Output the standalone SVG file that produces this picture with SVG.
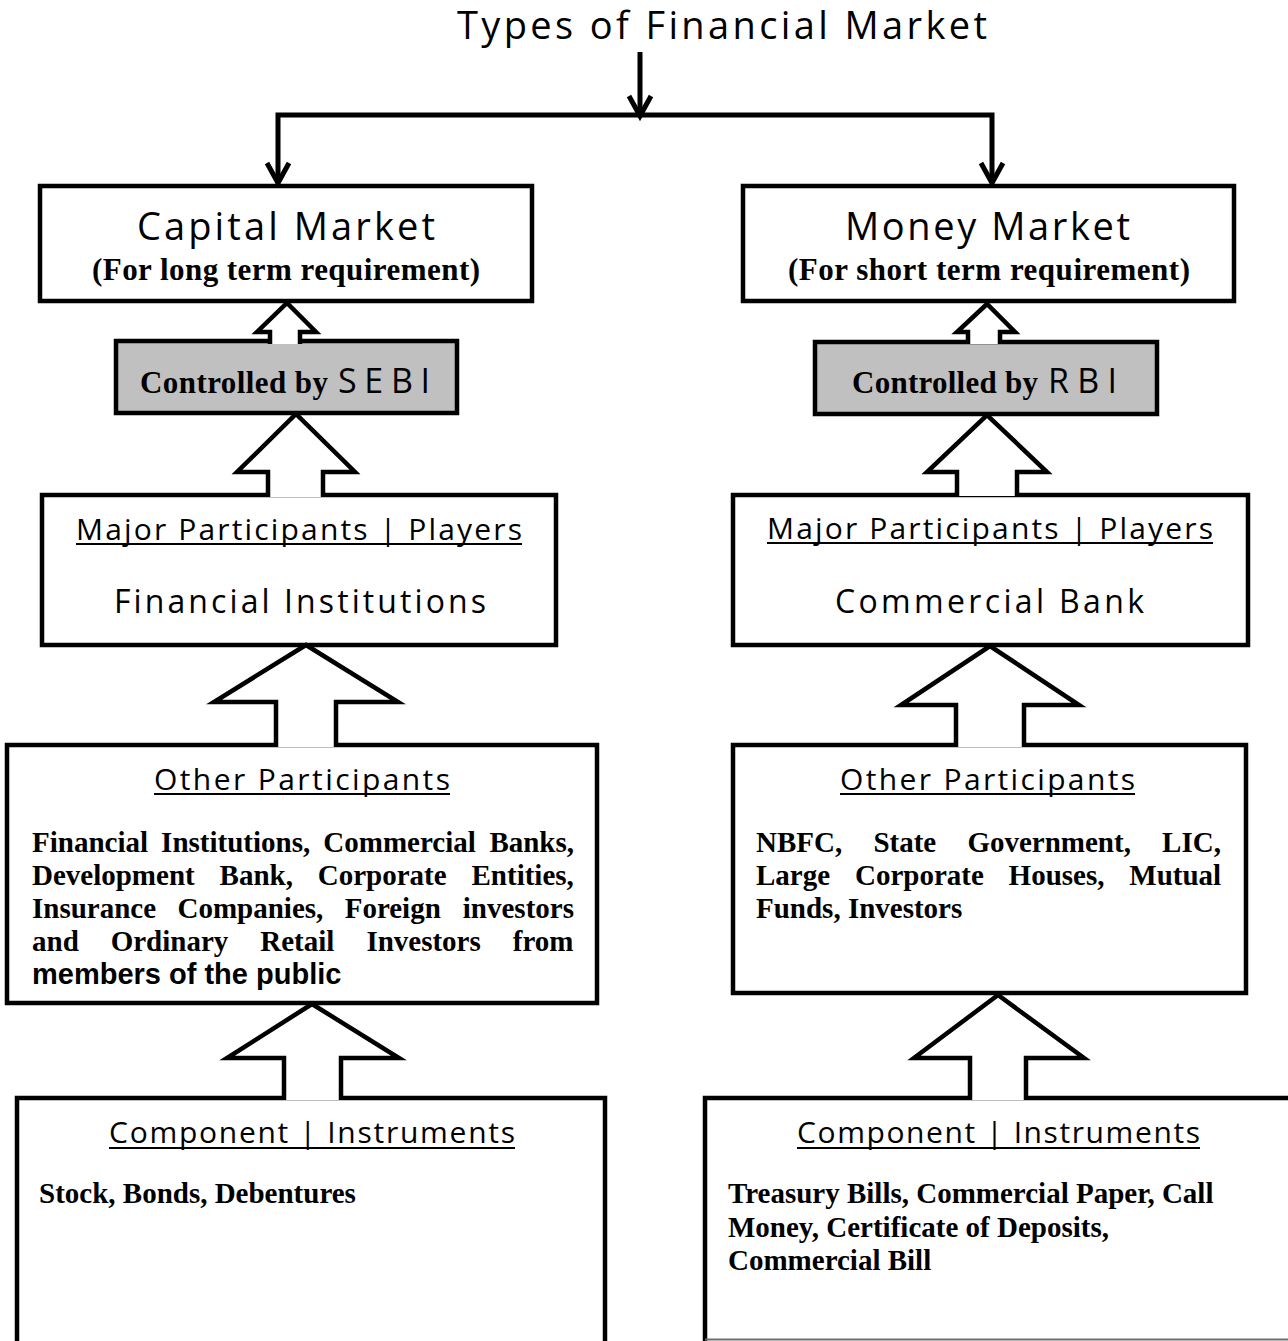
<svg xmlns="http://www.w3.org/2000/svg" width="1288" height="1341" viewBox="0 0 1288 1341">
<style>
.box{fill:#fff;stroke:#000;stroke-width:4.5}
.gray{fill:#c0c0c0;stroke:#000;stroke-width:4.5}
.blk{fill:#fff;stroke:#000;stroke-width:4.5;stroke-linejoin:miter}
.conn{fill:none;stroke:#000;stroke-width:5;stroke-linejoin:miter}
.hd{font-family:"Open Sans","Liberation Sans",sans-serif;fill:#000}
.h38{font-size:38px}
.h34{font-size:34px}
.h32{font-size:32px}
.h30{font-size:30px}
.ser{font-family:"Liberation Serif","Times New Roman",serif;font-weight:bold;fill:#000}
.s31{font-size:31px}
.body{font-family:"Liberation Serif","Times New Roman",serif;font-weight:bold;font-size:29px;fill:#000}
.sansb{font-family:"Liberation Sans",Arial,sans-serif;font-weight:bold;font-size:29px;fill:#000}
.ul{stroke:#000;stroke-width:2}
</style>

<g id="title">
<text class="hd h38" x="457" y="39" textLength="530" lengthAdjust="spacing">Types of Financial Market</text>
</g>

<g id="capital-market">
<rect class="box" x="40" y="186" width="492" height="115"/>
<text class="hd h38" x="137" y="240" textLength="298" lengthAdjust="spacing">Capital Market</text>
<text class="ser s31" x="92" y="280" textLength="388" lengthAdjust="spacing">(For long term requirement)</text>
</g>

<g id="money-market">
<rect class="box" x="743" y="186" width="491" height="115"/>
<text class="hd h38" x="845" y="240" textLength="285" lengthAdjust="spacing">Money Market</text>
<text class="ser s31" x="788" y="280" textLength="402" lengthAdjust="spacing">(For short term requirement)</text>
</g>

<g id="sebi">
<rect class="gray" x="116" y="341" width="341" height="72"/>
<text class="ser s31" x="140" y="393" textLength="188" lengthAdjust="spacing">Controlled by</text>
<text class="hd h34" x="338" y="393" textLength="92" lengthAdjust="spacing">SEBI</text>
</g>

<g id="rbi">
<rect class="gray" x="815" y="342" width="342" height="72"/>
<text class="ser s31" x="852" y="393" textLength="186" lengthAdjust="spacing">Controlled by</text>
<text class="hd h34" x="1048" y="393" textLength="69" lengthAdjust="spacing">RBI</text>
</g>

<g id="major-left">
<rect class="box" x="42" y="495" width="514" height="150"/>
<text class="hd h30" x="76" y="540" textLength="446" lengthAdjust="spacing">Major Participants | Players</text>
<line class="ul" x1="76" y1="544" x2="522" y2="544"/>
<text class="hd h32" x="114" y="613" textLength="372" lengthAdjust="spacing">Financial Institutions</text>
</g>

<g id="major-right">
<rect class="box" x="733" y="495" width="515" height="150"/>
<text class="hd h30" x="767" y="539" textLength="446" lengthAdjust="spacing">Major Participants | Players</text>
<line class="ul" x1="767" y1="543" x2="1213" y2="543"/>
<text class="hd h32" x="835" y="613" textLength="309" lengthAdjust="spacing">Commercial Bank</text>
</g>

<g id="other-left">
<rect class="box" x="7" y="745" width="590" height="258"/>
<text class="hd h30" x="154" y="790" textLength="296" lengthAdjust="spacing">Other Participants</text>
<line class="ul" x1="154" y1="794" x2="450" y2="794"/>
<text class="body" y="852"><tspan x="32">Financial</tspan> <tspan x="161.1">Institutions,</tspan> <tspan x="323.3">Commercial</tspan> <tspan x="489.4">Banks,</tspan></text>
<text class="body" y="885"><tspan x="32">Development</tspan> <tspan x="219.6">Bank,</tspan> <tspan x="317.8">Corporate</tspan> <tspan x="471.5">Entities,</tspan></text>
<text class="body" y="918"><tspan x="32">Insurance</tspan> <tspan x="177.5">Companies,</tspan> <tspan x="344.7">Foreign</tspan> <tspan x="462.8">investors</tspan></text>
<text class="body" y="951"><tspan x="32">and</tspan> <tspan x="110.7">Ordinary</tspan> <tspan x="260.3">Retail</tspan> <tspan x="366.4">Investors</tspan> <tspan x="512.8">from</tspan></text>
<text class="sansb" x="32" y="984">members of the public</text>
</g>

<g id="other-right">
<rect class="box" x="733" y="745" width="513" height="248"/>
<text class="hd h30" x="840" y="790" textLength="295" lengthAdjust="spacing">Other Participants</text>
<line class="ul" x1="840" y1="794" x2="1135" y2="794"/>
<text class="body" y="852"><tspan x="756">NBFC,</tspan> <tspan x="873.4">State</tspan> <tspan x="967.4">Government,</tspan> <tspan x="1162.1">LIC,</tspan></text>
<text class="body" y="885"><tspan x="756">Large</tspan> <tspan x="855">Corporate</tspan> <tspan x="1008.6">Houses,</tspan> <tspan x="1129.3">Mutual</tspan></text>
<text class="body" x="756" y="918">Funds, Investors</text>
</g>

<g id="component-left">
<path class="box" fill="none" d="M17,1350 V1098 H605 V1350"/>
<text class="hd h30" x="109" y="1143" textLength="406" lengthAdjust="spacing">Component | Instruments</text>
<line class="ul" x1="109" y1="1148" x2="515" y2="1148"/>
<text class="body" x="39" y="1203">Stock, Bonds, Debentures</text>
</g>

<g id="component-right">
<path class="box" d="M705,1350 V1098 H1295"/>
<line x1="705" y1="1339.5" x2="1288" y2="1339.5" stroke="#6e6e6e" stroke-width="2"/>
<text class="hd h30" x="797" y="1143" textLength="403" lengthAdjust="spacing">Component | Instruments</text>
<line class="ul" x1="797" y1="1148" x2="1200" y2="1148"/>
<text class="body" x="728" y="1203">Treasury Bills, Commercial Paper, Call</text>
<text class="body" x="728" y="1237">Money, Certificate of Deposits,</text>
<text class="body" x="728" y="1270">Commercial Bill</text>
</g>

<g id="connectors">
<line class="conn" x1="640" y1="52" x2="640" y2="115"/>
<polyline class="conn" points="629,96 640,116 651,96"/>
<polyline class="conn" points="278,183 278,115 992,115 992,183"/>
<polyline class="conn" points="267,163 278,183 289,163"/>
<polyline class="conn" points="981,163 992,183 1003,163"/>

<path class="blk" d="M270,344 V332 H257 L287,303 L316,332 H300 V344"/>
<path class="blk" d="M268,497 V472 H237 L296,414 L355,472 H323 V497"/>
<path class="blk" d="M276,747 V702 H214 L306,645 L398,702 H336 V747"/>
<path class="blk" d="M284,1100 V1058 H227 L312,1004 L399,1058 H341 V1100"/>

<path class="blk" d="M968,344 V332 H957 L987,304 L1015,332 H1000 V344"/>
<path class="blk" d="M957,496 V472 H927 L987,415 L1047,472 H1017 V496"/>
<path class="blk" d="M956,747 V705 H901 L990,646 L1079,705 H1024 V747"/>
<path class="blk" d="M970,1100 V1058 H914 L998,995 L1084,1058 H1026 V1100"/>
</g>
</svg>
